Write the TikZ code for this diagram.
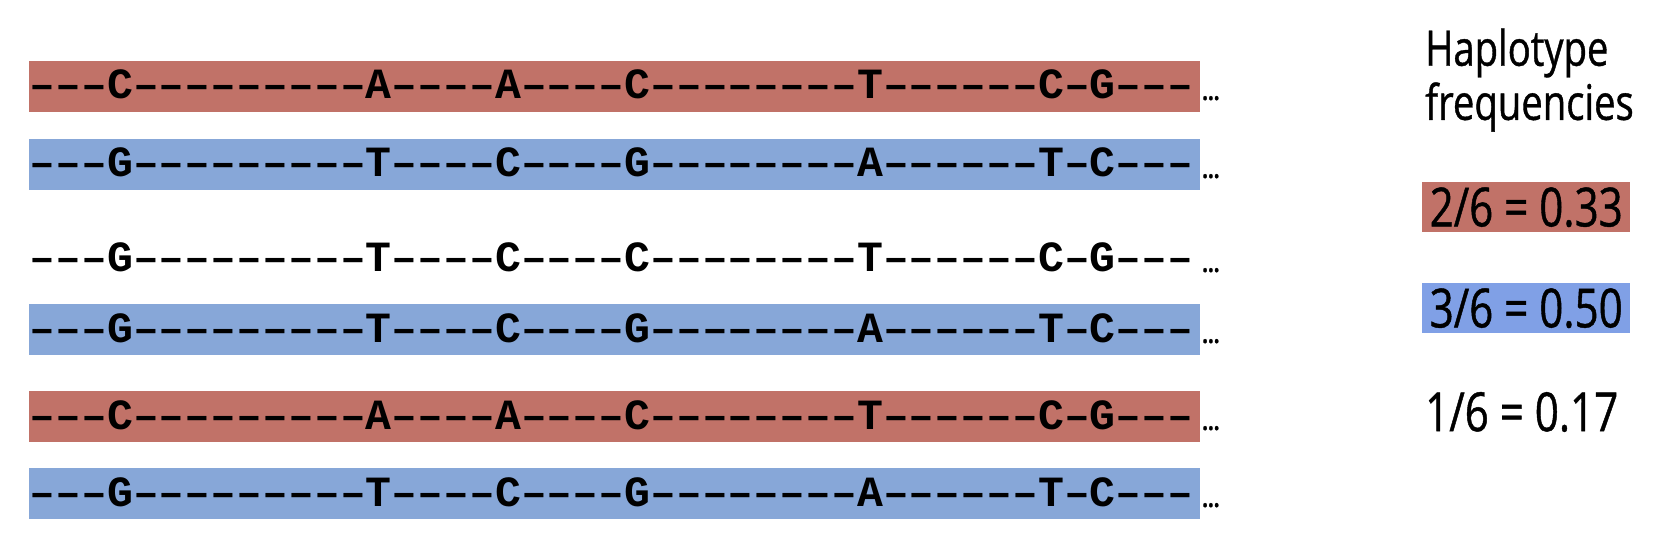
\documentclass[tikz,border=0pt]{standalone}
\usepackage{fontspec}
\setmainfont{Open Sans}
\newfontfamily\seqfont{Liberation Mono}
\newfontfamily\labfont{Open Sans}[FakeStretch=0.78,FakeBold=0.8]
\definecolor{hapred}{RGB}{193,114,104}
\definecolor{hapblue}{RGB}{135,167,216}
\definecolor{hapbluebox}{RGB}{128,160,230}
\tikzset{
  seqbar/.style={fill=#1, draw=none, minimum width=1171pt, minimum height=51pt, anchor=north west, inner sep=0pt, outer sep=0pt},
  seqtext/.style={anchor=base west, inner sep=0pt, font=\seqfont\bfseries\fontsize{43.1}{50}\selectfont},
  seqdots/.style={anchor=base west, inner sep=0pt, font=\labfont\bfseries\fontsize{26}{30}\selectfont},
  headlabel/.style={anchor=west, inner sep=0pt, font=\labfont\fontsize{49}{56}\selectfont},
  freqbox/.style={fill=#1, draw=none, minimum width=208pt, minimum height=50pt, anchor=north west, inner sep=0pt, font=\labfont\fontsize{54}{60}\selectfont},
  freqtext/.style={anchor=west, inner sep=0pt, font=\labfont\fontsize{54}{60}\selectfont}
}
\begin{document}
\begin{tikzpicture}[x=1pt,y=-1pt]
\useasboundingbox (0,0) rectangle (1676,540);
% bars
\node[seqbar=hapred]  (bar1) at (29,61)  {};
\node[seqbar=hapblue] (bar2) at (29,139) {};
\node[seqbar=hapblue] (bar4) at (29,304) {};
\node[seqbar=hapred]  (bar5) at (29,391) {};
\node[seqbar=hapblue] (bar6) at (29,468) {};
% sequences
\node[seqtext] (s1) at (29.5,99)  {–––C–––––––––A––––A––––C––––––––T––––––C–G–––};
\node[seqtext] (s2) at (29.5,177) {–––G–––––––––T––––C––––G––––––––A––––––T–C–––};
\node[seqtext] (s3) at (29.5,271) {–––G–––––––––T––––C––––C––––––––T––––––C–G–––};
\node[seqtext] (s4) at (29.5,342) {–––G–––––––––T––––C––––G––––––––A––––––T–C–––};
\node[seqtext] (s5) at (29.5,429) {–––C–––––––––A––––A––––C––––––––T––––––C–G–––};
\node[seqtext] (s6) at (29.5,506) {–––G–––––––––T––––C––––G––––––––A––––––T–C–––};
% dots
\node[seqdots] (d1) at (1202,100) {...};
\node[seqdots] (d2) at (1202,178) {...};
\node[seqdots] (d3) at (1202,272) {...};
\node[seqdots] (d4) at (1202,343) {...};
\node[seqdots] (d5) at (1202,430) {...};
\node[seqdots] (d6) at (1202,507) {...};
% labels
\node[headlabel] (h1) at (1425,53)  {Haplotype};
\node[headlabel] (h2) at (1425,107) {frequencies};
\node[freqbox=hapred]     (f1) at (1422,182) {2/6 = 0.33};
\node[freqbox=hapbluebox] (f2) at (1422,283) {3/6 = 0.50};
\node[freqtext] (f3) at (1425,412) {1/6 = 0.17};
\end{tikzpicture}
\end{document}
